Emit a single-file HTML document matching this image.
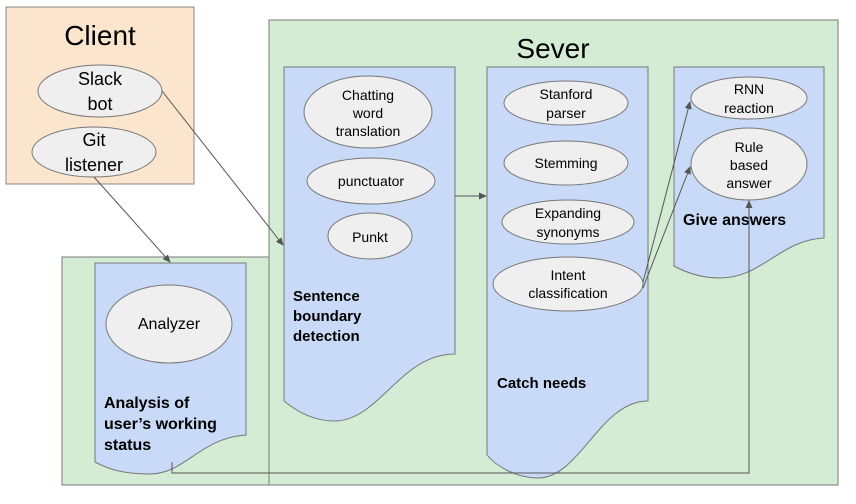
<!DOCTYPE html>
<html><head><meta charset="utf-8"><style>
body{margin:0;background:#fff;}
svg{display:block;font-family:"Liberation Sans",sans-serif;}
</style></head><body>
<svg width="856" height="504" viewBox="0 0 856 504" xmlns="http://www.w3.org/2000/svg">
<defs><marker id="a" markerWidth="8" markerHeight="8" refX="7" refY="4" orient="auto" markerUnits="userSpaceOnUse"><path d="M0,0.5 L8,4 L0,7.5 z" fill="#555"/></marker></defs>
<rect x="6" y="7" width="188" height="177" fill="#fce5cd" stroke="#888"/>
<rect x="269" y="20" width="569" height="465" fill="#d5ecd4" stroke="#777"/>
<rect x="62" y="257" width="207" height="228" fill="#d5ecd4" stroke="#777"/>
<text x="100" y="45" font-size="28" text-anchor="middle">Client</text>
<text x="553" y="58" font-size="28" text-anchor="middle">Sever</text>
<g fill="#c9daf8" stroke="#777">
<path d="M95,263 H246 V435 C200,438 185,474 150,474 C125,474 110,470 95,462 Z"/>
<path d="M284,67 H455 V354 C400,354 380,421 334,421 C312,421 295,410 284,401 Z"/>
<path d="M487,67 H648 V401 C600,401 580,478 538,478 C515,478 495,465 487,455 Z"/>
<path d="M674,67 H824 V238 C780,240 762,278 720,278 C700,278 685,272 674,266 Z"/>
</g>
<g fill="#efefef" stroke="#777">
<ellipse cx="100" cy="91" rx="62" ry="26"/>
<ellipse cx="94" cy="152" rx="62" ry="25"/>
<ellipse cx="368" cy="112" rx="64" ry="36"/>
<ellipse cx="371" cy="181" rx="64" ry="23"/>
<ellipse cx="370" cy="236" rx="42" ry="23"/>
<ellipse cx="566" cy="103" rx="62" ry="22"/>
<ellipse cx="566" cy="163" rx="62" ry="22"/>
<ellipse cx="568" cy="222" rx="66" ry="22"/>
<ellipse cx="568" cy="284" rx="75" ry="27"/>
<ellipse cx="749" cy="98" rx="58" ry="21"/>
<ellipse cx="749" cy="164" rx="58" ry="36"/>
<ellipse cx="169" cy="324" rx="63" ry="39"/>
</g>
<g font-size="18" text-anchor="middle">
<text x="100" y="85">Slack</text><text x="100" y="110">bot</text>
<text x="94" y="146">Git</text><text x="94" y="171">listener</text>
</g>
<g font-size="14" text-anchor="middle">
<text x="368" y="100">Chatting</text><text x="368" y="118">word</text><text x="368" y="136">translation</text>
<text x="371" y="186">punctuator</text>
<text x="370" y="242">Punkt</text>
<text x="566" y="99">Stanford</text><text x="566" y="118">parser</text>
<text x="566" y="168">Stemming</text>
<text x="568" y="218">Expanding</text><text x="568" y="237">synonyms</text>
<text x="568" y="280">Intent</text><text x="568" y="298">classification</text>
<text x="749" y="94">RNN</text><text x="749" y="113">reaction</text>
<text x="749" y="152">Rule</text><text x="749" y="170">based</text><text x="749" y="188">answer</text>
<text x="169" y="329" font-size="16">Analyzer</text>
</g>
<g font-size="15" font-weight="bold">
<text x="293" y="301">Sentence</text><text x="293" y="321">boundary</text><text x="293" y="341">detection</text>
<text x="104" y="408" font-size="16">Analysis of</text><text x="104" y="429" font-size="16">user’s working</text><text x="104" y="450" font-size="16">status</text>
<text x="497" y="388">Catch needs</text>
<text x="683" y="225" font-size="16">Give answers</text>
</g>
<g stroke="#555" fill="none" stroke-width="1">
<line x1="162" y1="91" x2="283" y2="245" marker-end="url(#a)"/>
<line x1="94" y1="177" x2="170" y2="262" marker-end="url(#a)"/>
<line x1="455" y1="196" x2="486" y2="196" marker-end="url(#a)"/>
<line x1="643" y1="282" x2="690" y2="102" marker-end="url(#a)"/>
<line x1="643" y1="288" x2="690" y2="167" marker-end="url(#a)"/>
<polyline points="172,462 172,473 749,473 749,201" marker-end="url(#a)"/>
</g>
</svg>
</body></html>
